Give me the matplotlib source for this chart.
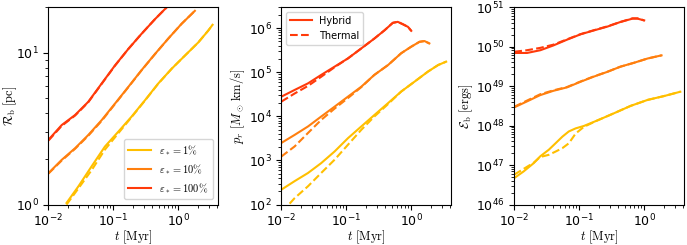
import numpy as np
import matplotlib
matplotlib.use('Agg')
import matplotlib.pyplot as plt

plt.rcParams['mathtext.fontset'] = 'cm'
plt.rcParams['font.size'] = 9

# colours for the three star formation efficiencies
colors = ['#FFBF00', '#FF7F0E', '#FF3A0A']
labels = [r'$\varepsilon_* = 1\%$', r'$\varepsilon_* = 10\%$', r'$\varepsilon_* = 100\%$']

# ---- bubble radius R_b [pc]
R_t1 = [0.019, 0.029, 0.046, 0.074, 0.119, 0.19, 0.307, 0.49, 0.79, 1.27, 2.03, 2.89, 3.37]
R_h1 = [1.025, 1.32, 1.78, 2.41, 3.02, 3.79, 4.87, 6.27, 7.85, 9.6, 11.7, 14.0, 15.3]
R_th1 = [1.0, 1.28, 1.68, 2.30, 2.95, 3.76, 4.85, 6.25, 7.85, 9.6, 11.7, 14.0, 15.3]
R_t10 = [0.01, 0.016, 0.0257, 0.041, 0.066, 0.106, 0.17, 0.27, 0.44, 0.70, 1.12, 1.8]
R_h10 = [1.61, 1.97, 2.35, 2.87, 3.60, 4.63, 5.96, 7.66, 9.85, 12.4, 15.5, 18.9]
R_th10 = [1.60, 1.95, 2.33, 2.84, 3.56, 4.60, 5.94, 7.64, 9.83, 12.4, 15.5, 18.9]
R_t100 = [0.01, 0.016, 0.0257, 0.041, 0.066, 0.106, 0.17, 0.27, 0.44, 0.66, 0.75]
R_h100 = [2.67, 3.34, 3.89, 4.75, 6.27, 8.26, 10.6, 13.3, 16.7, 19.9, 21.5]
R_th100 = [2.64, 3.30, 3.86, 4.72, 6.24, 8.23, 10.6, 13.3, 16.7, 19.9, 21.5]

# ---- radial momentum p_r [Msun km/s]
p_t1 = [0.01, 0.016, 0.0257, 0.041, 0.066, 0.106, 0.17, 0.27, 0.44, 0.70, 1.12, 1.8, 2.6, 3.45]
p_h1 = [2.18e2, 3.4e2, 5.2e2, 8.7e2, 1.6e3, 3.2e3, 5.9e3, 1.07e4, 2.0e4, 3.65e4,
        6.1e4, 1.03e5, 1.46e5, 1.74e5]
p_th1_t = [0.0134, 0.016, 0.0257, 0.041, 0.066, 0.106, 0.17, 0.27, 0.44, 0.70, 1.12,
           1.8, 2.6, 3.45]
p_th1 = [1.05e2, 1.4e2, 2.6e2, 5.2e2, 1.04e3, 2.27e3, 4.95e3, 9.9e3, 1.9e4, 3.65e4,
         6.1e4, 1.03e5, 1.46e5, 1.74e5]
p_t10 = [0.01, 0.016, 0.0257, 0.041, 0.066, 0.106, 0.17, 0.27, 0.44, 0.70, 1.0, 1.34, 1.6, 1.9]
p_h10 = [2.5e3, 3.8e3, 5.9e3, 9.9e3, 1.66e4, 2.8e4, 4.7e4, 8.7e4, 1.46e5, 2.7e5,
         3.8e5, 4.9e5, 5.1e5, 4.5e5]
p_th10 = [1.23e3, 2.08e3, 4.2e3, 8.3e3, 1.5e4, 2.6e4, 4.6e4, 8.7e4, 1.46e5, 2.7e5,
          3.8e5, 4.9e5, 5.1e5, 4.5e5]
p_t100 = [0.01, 0.016, 0.0257, 0.041, 0.066, 0.106, 0.17, 0.27, 0.39, 0.52, 0.62, 0.74, 0.89, 1.0]
p_h100 = [2.8e4, 3.97e4, 5.6e4, 8.7e4, 1.34e5, 2.06e5, 3.47e5, 5.8e5, 9.0e5, 1.32e6,
          1.39e6, 1.23e6, 1.07e6, 8.7e5]
p_th100 = [2.16e4, 3.3e4, 4.9e4, 7.9e4, 1.3e5, 2.06e5, 3.47e5, 5.8e5, 9.0e5, 1.32e6,
           1.39e6, 1.23e6, 1.07e6, 8.7e5]

# ---- bubble energy E_b [erg]
E_t1 = [0.01, 0.0139, 0.0199, 0.025, 0.034, 0.043, 0.055, 0.069, 0.088, 0.118, 0.19,
        0.34, 0.62, 1.13, 2.03, 3.6]
E_h1 = [4.7e46, 6.9e46, 1.12e47, 1.66e47, 2.45e47, 3.55e47, 5.25e47, 7.1e47, 8.5e47,
        9.8e47, 1.35e48, 2.04e48, 3.16e48, 4.47e48, 5.6e48, 7.2e48]
E_th1 = [5.75e46, 8.0e46, 1.15e47, 1.6e47, 1.82e47, 2.19e47, 2.69e47, 3.55e47, 6.3e47,
         9.3e47, 1.35e48, 2.04e48, 3.16e48, 4.47e48, 5.6e48, 7.2e48]
E_t10 = [0.01, 0.0157, 0.025, 0.04, 0.065, 0.105, 0.168, 0.27, 0.43, 0.70, 1.13, 1.85]
E_h10 = [2.9e48, 4.1e48, 5.9e48, 7.6e48, 9.3e48, 1.29e49, 1.74e49, 2.29e49, 3.1e49,
         3.9e49, 5.0e49, 6.0e49]
E_th10 = [3.0e48, 4.3e48, 6.2e48, 7.8e48, 9.5e48, 1.31e49, 1.76e49, 2.3e49, 3.1e49,
          3.9e49, 5.0e49, 6.0e49]
E_t100 = [0.01, 0.0157, 0.0252, 0.040, 0.065, 0.105, 0.168, 0.27, 0.43, 0.66, 0.79, 1.0]
E_h100 = [6.9e49, 6.9e49, 8.1e49, 1.07e50, 1.5e50, 2.05e50, 2.57e50, 3.2e50, 4.2e50,
          5.1e50, 5.1e50, 4.6e50]
E_th100 = [7.4e49, 8.1e49, 9.3e49, 1.12e50, 1.53e50, 2.07e50, 2.6e50, 3.25e50, 4.2e50,
           5.2e50, 5.2e50, 4.6e50]

R_data = [(R_t1, R_h1, R_t1, R_th1), (R_t10, R_h10, R_t10, R_th10), (R_t100, R_h100, R_t100, R_th100)]
p_data = [(p_t1, p_h1, p_th1_t, p_th1), (p_t10, p_h10, p_t10, p_th10), (p_t100, p_h100, p_t100, p_th100)]
E_data = [(E_t1, E_h1, E_t1, E_th1), (E_t10, E_h10, E_t10, E_th10), (E_t100, E_h100, E_t100, E_th100)]

fig, axes = plt.subplots(1, 3, figsize=(6.87, 2.45), dpi=100)
fig.subplots_adjust(left=0.0705, right=0.9956, bottom=0.165, top=0.971, wspace=0.373)

for ax, data in zip(axes, [R_data, p_data, E_data]):
    for i, (th, yh, tt, yt) in enumerate(data):
        ax.plot(th, yh, color=colors[i], lw=1.5, label=labels[i])
        ax.plot(tt, yt, color=colors[i], lw=1.5, ls='--')
    ax.set_xscale('log')
    ax.set_yscale('log')
    ax.set_xlim(1e-2, 4.1)
    ax.tick_params(axis='x', pad=2)
    ax.set_xlabel(r'$t\ [\mathrm{Myr}]$', labelpad=0)

ax1, ax2, ax3 = axes
ax1.set_ylim(1, 20)
ax1.set_ylabel(r'$\mathcal{R}_\mathrm{b}\ [\mathrm{pc}]$')
ax1.yaxis.set_label_coords(-0.175, 0.5)
ax1.legend(loc='lower right', fontsize=7.5, handlelength=2.2)

ax2.set_ylim(1e2, 3e6)
ax2.set_ylabel(r'$p_r\ [M_\odot\,\mathrm{km/s}]$', labelpad=1)
h1, = ax2.plot([], [], color=colors[2], lw=1.5)
h2, = ax2.plot([], [], color=colors[2], lw=1.5, ls='--')
ax2.legend([h1, h2], ['Hybrid', 'Thermal'], loc='upper left', fontsize=7, handlelength=2.2)

ax3.set_ylim(1e46, 1e51)
ax3.set_ylabel(r'$\mathcal{E}_\mathrm{b}\ [\mathrm{ergs}]$', labelpad=1)

fig.savefig('out.png', dpi=100)
